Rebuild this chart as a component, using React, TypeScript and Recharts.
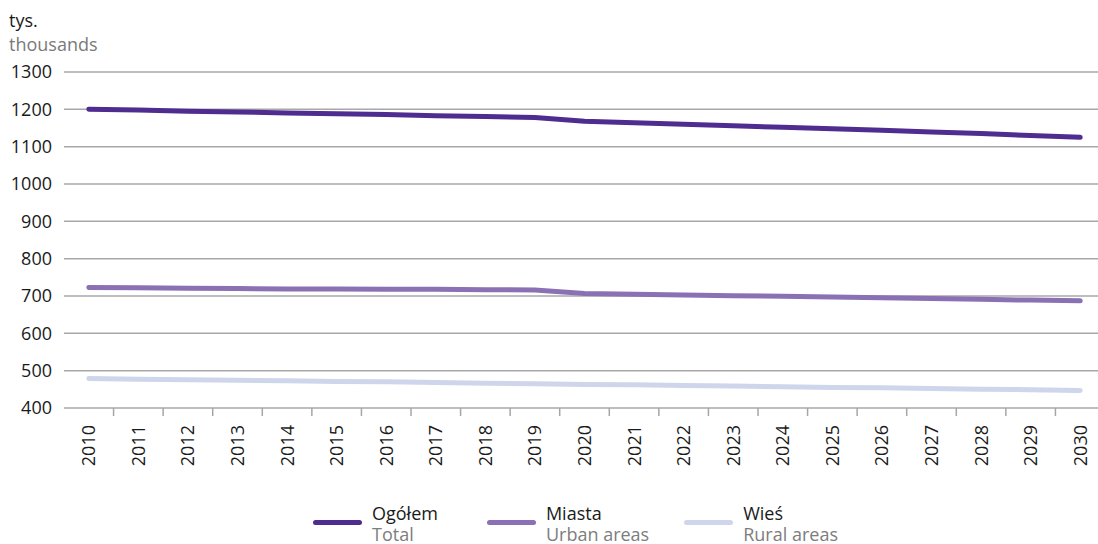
import React from 'react';
import { LineChart, Line, XAxis, YAxis, CartesianGrid, Legend } from 'recharts';

const years = [2010, 2011, 2012, 2013, 2014, 2015, 2016, 2017, 2018, 2019, 2020, 2021, 2022, 2023, 2024, 2025, 2026, 2027, 2028, 2029, 2030];
const total = [1200, 1198, 1195, 1193, 1190, 1188, 1186, 1183, 1181, 1178, 1168, 1164, 1160, 1156, 1152, 1148, 1144, 1139, 1135, 1130, 1125];
const urban = [723, 722, 721, 720, 719, 719, 718, 718, 717, 716, 707, 705, 703, 701, 699, 697, 695, 693, 691, 689, 687];
const rural = [479, 477, 476, 474, 473, 471, 470, 468, 466, 465, 463, 462, 460, 459, 457, 455, 454, 452, 450, 449, 447];
const yTicks = [400, 500, 600, 700, 800, 900, 1000, 1100, 1200, 1300];

const seriesKeys = ['total', 'urban', 'rural'];
const seriesNamesPl = ['Ogółem', 'Miasta', 'Wieś'];
const seriesNamesEn = ['Total', 'Urban areas', 'Rural areas'];
const seriesColors = ['#4f2c8f', '#8a71b4', '#cfd6ec'];

const unitPl = 'tys.';
const unitEn = 'thousands';

const FONT = '"Open Sans", "Noto Sans", sans-serif';
const CHART_W = 1105;
const CHART_H = 544;
const Y_W = 64;
const BAND = (CHART_W - Y_W) / years.length;

const data = years.map((y, i) => ({
  year: String(y),
  total: total[i],
  urban: urban[i],
  rural: rural[i],
}));

const XTick = (props: any) => {
  const { x, y, payload, index } = props;
  return (
    <g>
      {index < years.length - 1 && (
        <line x1={x + BAND / 2} x2={x + BAND / 2} y1={y} y2={y + 8} stroke="#a6a6a6" strokeWidth={1.5} />
      )}
      <text
        transform={`translate(${x + 6.5},${y + 17}) rotate(-90)`}
        textAnchor="end"
        fontSize={18}
        fill="#1a1a1a"
        fontFamily={FONT}
      >
        {payload.value}
      </text>
    </g>
  );
};

const itemGaps = [49, 35, 0];

const renderLegend = () => (
  <div style={{ display: 'flex', flexDirection: 'row', fontFamily: FONT, fontSize: 18, lineHeight: '21px' }}>
    {seriesKeys.map((k, i) => (
      <div key={k} style={{ display: 'flex', alignItems: 'flex-start', marginRight: itemGaps[i] }}>
        <div style={{ width: 49, height: 5, borderRadius: 3, background: seriesColors[i], marginTop: 17, marginRight: 10 }} />
        <div>
          <div style={{ color: '#1a1a1a' }}>{seriesNamesPl[i]}</div>
          <div style={{ color: '#7d7d7d' }}>{seriesNamesEn[i]}</div>
        </div>
      </div>
    ))}
  </div>
);

export default function App() {
  return (
    <div style={{ position: 'absolute', left: 0, top: 0, width: 1098, height: 544, overflow: 'hidden', background: '#fff' }}>
      <div style={{ position: 'absolute', left: 9, top: 7.7, fontFamily: FONT, fontSize: 18, lineHeight: '24px', zIndex: 2 }}>
        <div style={{ color: '#1a1a1a' }}>{unitPl}</div>
        <div style={{ color: '#7a7a7a' }}>{unitEn}</div>
      </div>
      <LineChart width={CHART_W} height={CHART_H} data={data} margin={{ top: 72, right: 0, left: 0, bottom: 0 }}>
        <CartesianGrid horizontal vertical={false} stroke="#a8a8a8" strokeWidth={1.5} />
        <XAxis
          dataKey="year"
          interval={0}
          height={136}
          padding={{ left: BAND / 2, right: BAND / 2 }}
          axisLine={false}
          tickLine={false}
          tickSize={0}
          tickMargin={0}
          tick={<XTick />}
        />
        <YAxis
          domain={[400, 1300]}
          ticks={yTicks}
          width={Y_W}
          axisLine={false}
          tickLine={false}
          tickSize={0}
          tickMargin={12}
          interval={0}
          tick={{ fontSize: 18, fill: '#1a1a1a', fontFamily: FONT }}
        />
        <Legend
          verticalAlign="middle"
          align="center"
          layout="horizontal"
          wrapperStyle={{ position: 'absolute', top: 502.5, left: 313, width: 'auto' }}
          content={renderLegend}
        />
        {seriesKeys.map((k, i) => (
          <Line
            key={k}
            type="linear"
            dataKey={k}
            stroke={seriesColors[i]}
            strokeWidth={5}
            strokeLinecap="round"
            dot={false}
            activeDot={false}
            isAnimationActive={false}
          />
        ))}
      </LineChart>
    </div>
  );
}
